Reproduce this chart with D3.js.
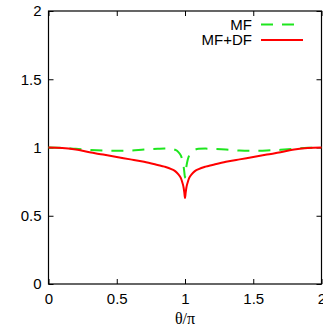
<!DOCTYPE html>
<html>
<head>
  <meta charset="utf-8">
  <script src="https://d3js.org/d3.v7.min.js"></script>
  <style>
    body { margin: 0; background: #fff; }
    svg text { font-family: "Liberation Sans", Arial, sans-serif; font-size: 15px; fill: #000; }
  </style>
</head>
<body>
  <svg class="chart"></svg>
  <script>
    // Constants
    const WIDTH  = 323;
    const HEIGHT = 331;
    const PLOT = { left: 48.5, right: 321.5, top: 11, bottom: 284 };

    // data: theta/pi and the two curves
    const THETA  = [0, 0.1, 0.2, 0.3, 0.4, 0.5, 0.6, 0.7, 0.8, 0.85, 0.9, 0.93, 0.95, 0.97, 0.98, 0.99, 0.995, 1.0,
                    1.005, 1.01, 1.02, 1.03, 1.05, 1.07, 1.1, 1.15, 1.2, 1.3, 1.4, 1.5, 1.6, 1.7, 1.8, 1.9, 2.0];
    const MF     = [1.0, 0.998, 0.99, 0.983, 0.978, 0.976, 0.978, 0.985, 0.99, 0.992, 0.99, 0.982, 0.968, 0.94, 0.91, 0.86, 0.82, 0.78,
                    0.82, 0.86, 0.91, 0.94, 0.968, 0.982, 0.99, 0.992, 0.99, 0.985, 0.978, 0.976, 0.978, 0.983, 0.99, 0.998, 1.0];
    const MFDF   = [1.0, 0.997, 0.985, 0.965, 0.948, 0.93, 0.913, 0.895, 0.872, 0.86, 0.842, 0.825, 0.805, 0.775, 0.745, 0.705, 0.67, 0.63,
                    0.67, 0.705, 0.745, 0.775, 0.805, 0.825, 0.842, 0.86, 0.872, 0.895, 0.913, 0.93, 0.948, 0.965, 0.985, 0.997, 1.0];
    const X_TICKS = [0, 0.5, 1, 1.5, 2];
    const Y_TICKS = [0, 0.5, 1, 1.5, 2];
    const SERIES = [
      { name: "MF",    values: MF,   color: "#1ee61e", dash: "12,9" },
      { name: "MF+DF", values: MFDF, color: "#ff0000", dash: null }
    ];

    const svg = d3.select(".chart").attr("width", WIDTH).attr("height", HEIGHT);

    const x = d3.scaleLinear().domain([0, 2]).range([PLOT.left, PLOT.right]);
    const y = d3.scaleLinear().domain([0, 2]).range([PLOT.bottom, PLOT.top]);

    // axes with inward ticks, mirrored on all four sides
    const TICK = 5;
    svg.append("g").attr("transform", `translate(0,${PLOT.bottom})`)
      .call(d3.axisBottom(x).tickValues(X_TICKS).tickSize(-TICK).tickPadding(9).tickFormat(d3.format("")))
      .call(g => g.select(".domain").remove())
      .call(g => g.selectAll("text").attr("font-size", null));
    svg.append("g").attr("transform", `translate(0,${PLOT.top})`)
      .call(d3.axisTop(x).tickValues(X_TICKS).tickSize(-TICK).tickFormat(""))
      .call(g => g.select(".domain").remove());
    svg.append("g").attr("transform", `translate(${PLOT.left},0)`)
      .call(d3.axisLeft(y).tickValues(Y_TICKS).tickSize(-TICK).tickPadding(7).tickFormat(d3.format("")))
      .call(g => g.select(".domain").remove())
      .call(g => g.selectAll("text").attr("font-size", null));
    svg.append("g").attr("transform", `translate(${PLOT.right},0)`)
      .call(d3.axisRight(y).tickValues(Y_TICKS).tickSize(-TICK).tickFormat(""))
      .call(g => g.select(".domain").remove());
    svg.selectAll(".tick line").attr("stroke", "#000");

    // frame
    svg.append("rect")
      .attr("x", PLOT.left).attr("y", PLOT.top)
      .attr("width", PLOT.right - PLOT.left).attr("height", PLOT.bottom - PLOT.top)
      .attr("fill", "none").attr("stroke", "#000").attr("stroke-width", 1.2);

    // x label
    svg.append("text")
      .attr("x", x(1)).attr("y", 324)
      .attr("text-anchor", "middle")
      .style("font-family", "'Liberation Serif', serif")
      .style("font-size", "16px")
      .text("θ/π");

    // curves
    const line = d3.line().x((d, i) => x(THETA[i])).y(d => y(d)).curve(d3.curveMonotoneX);
    SERIES.forEach(s => {
      svg.append("path")
        .attr("d", line(s.values))
        .attr("fill", "none")
        .attr("stroke", s.color)
        .attr("stroke-width", 2)
        .attr("stroke-dasharray", s.dash);
    });

    // legend
    const legend = svg.selectAll(".legend").data(SERIES).enter().append("g")
      .attr("class", "legend")
      .attr("transform", (d, i) => `translate(0, ${24.5 + i * 15.5})`);
    legend.append("text")
      .attr("x", 252).attr("y", 5)
      .attr("text-anchor", "end")
      .text(d => d.name);
    legend.append("line")
      .attr("x1", 261).attr("x2", 303)
      .attr("stroke", d => d.color)
      .attr("stroke-width", 2)
      .attr("stroke-dasharray", d => d.dash);
  </script>
</body>
</html>
